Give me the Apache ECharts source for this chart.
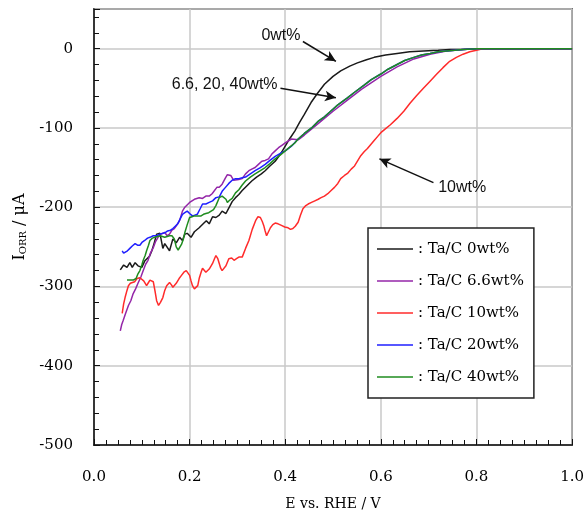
<!DOCTYPE html>
<html>
  <head>
    <meta charset="utf-8">
    <title>ORR current vs potential</title>
  </head>
  <body style="margin:0">
    <div id="main" style="width: 587px;height:520px;"></div>
  </body>
  <script type="text/javascript" src="https://cdn.jsdelivr.net/npm/echarts@6/dist/echarts.min.js"></script>
  <script type="text/javascript">
      // data: [E (V), I (uA)]
      var names = ['0wt%', '6.6wt%', '10wt%', '20wt%', '40wt%'];
      var colors = ['#1a1a1a', '#9426a8', '#ff2b2b', '#1f1fff', '#1f8c1f'];

      var common = [[0.44,-107],[0.455,-100],[0.47,-91],[0.482,-86],[0.495,-79],[0.51,-71],[0.53,-62],[0.545,-55],[0.565,-46],[0.58,-39],[0.6,-32],[0.615,-26],[0.634,-20],[0.65,-15],[0.669,-11],[0.685,-8],[0.703,-6],[0.72,-4],[0.737,-3],[0.755,-2],[0.772,-1],[0.8,0],[0.85,0],[0.9,0],[0.95,0],[1.0,0]];

      var black = [[0.055,-279],[0.062,-273],[0.069,-276],[0.075,-270],[0.08,-276],[0.086,-270],[0.092,-274],[0.1,-276],[0.106,-268],[0.11,-267],[0.116,-262],[0.121,-255],[0.126,-245],[0.131,-234],[0.138,-233],[0.144,-252],[0.148,-246],[0.152,-244],[0.158,-255],[0.165,-240],[0.172,-245],[0.179,-238],[0.185,-242],[0.19,-234],[0.195,-233],[0.203,-238],[0.21,-231],[0.214,-230],[0.22,-226],[0.224,-227],[0.23,-220],[0.235,-217],[0.241,-221],[0.248,-212],[0.255,-213],[0.262,-210],[0.268,-205],[0.276,-208],[0.283,-200],[0.289,-193],[0.296,-188],[0.303,-184],[0.31,-179],[0.32,-173],[0.33,-167],[0.34,-162],[0.35,-158],[0.358,-154],[0.368,-148],[0.379,-142],[0.39,-133],[0.4,-123],[0.41,-113],[0.42,-104],[0.43,-93],[0.44,-83],[0.454,-68],[0.468,-56],[0.482,-45],[0.5,-35],[0.516,-28],[0.535,-22],[0.551,-18],[0.57,-14],[0.586,-11],[0.61,-8],[0.634,-6],[0.66,-4],[0.689,-3],[0.72,-2],[0.744,-1],[0.77,-1],[0.8,0],[0.85,0],[0.9,0],[0.95,0],[1.0,0]];

      var purple = [[0.055,-356],[0.058,-348],[0.061,-343],[0.066,-334],[0.072,-324],[0.077,-318],[0.082,-309],[0.087,-303],[0.092,-296],[0.098,-288],[0.103,-280],[0.108,-272],[0.113,-267],[0.118,-258],[0.124,-251],[0.129,-243],[0.134,-238],[0.14,-234],[0.148,-232],[0.153,-236],[0.158,-234],[0.163,-229],[0.168,-227],[0.174,-222],[0.179,-217],[0.185,-205],[0.19,-200],[0.2,-194],[0.21,-190],[0.22,-188],[0.227,-189],[0.234,-186],[0.241,-186],[0.247,-183],[0.257,-175],[0.262,-175],[0.268,-171],[0.275,-163],[0.279,-159],[0.286,-160],[0.292,-166],[0.296,-167],[0.303,-165],[0.31,-164],[0.317,-158],[0.324,-154],[0.33,-152],[0.337,-150],[0.344,-146],[0.351,-142],[0.358,-141],[0.365,-139],[0.372,-133],[0.379,-129],[0.386,-125],[0.393,-122],[0.4,-119],[0.413,-114],[0.427,-115],[0.44,-109],[0.47,-94],[0.5,-79],[0.53,-65],[0.56,-51],[0.6,-35],[0.634,-23],[0.669,-13],[0.703,-7],[0.737,-3],[0.772,-1],[0.8,0],[0.85,0],[0.9,0],[0.95,0],[1.0,0]];

      var red = [[0.059,-334],[0.062,-322],[0.065,-314],[0.069,-305],[0.072,-299],[0.076,-296],[0.079,-296],[0.085,-294],[0.09,-290],[0.096,-289],[0.1,-290],[0.104,-293],[0.11,-299],[0.114,-295],[0.117,-292],[0.121,-290],[0.124,-294],[0.128,-307],[0.131,-318],[0.135,-324],[0.139,-320],[0.144,-314],[0.148,-305],[0.152,-299],[0.158,-295],[0.162,-298],[0.165,-301],[0.168,-299],[0.172,-296],[0.178,-290],[0.183,-286],[0.188,-282],[0.193,-280],[0.197,-282],[0.2,-286],[0.203,-293],[0.206,-299],[0.21,-303],[0.214,-305],[0.217,-299],[0.22,-290],[0.224,-282],[0.227,-277],[0.231,-279],[0.234,-282],[0.241,-278],[0.245,-274],[0.248,-271],[0.252,-265],[0.255,-261],[0.259,-265],[0.262,-271],[0.265,-277],[0.268,-280],[0.272,-278],[0.276,-274],[0.282,-265],[0.288,-264],[0.293,-267],[0.298,-265],[0.303,-263],[0.31,-263],[0.317,-252],[0.324,-242],[0.331,-228],[0.338,-217],[0.343,-212],[0.348,-213],[0.352,-218],[0.355,-223],[0.358,-230],[0.361,-236],[0.365,-231],[0.369,-226],[0.374,-222],[0.379,-220],[0.385,-221],[0.392,-223],[0.399,-225],[0.406,-226],[0.411,-228],[0.416,-227],[0.421,-224],[0.427,-219],[0.432,-210],[0.437,-202],[0.443,-198],[0.448,-196],[0.455,-194],[0.462,-192],[0.469,-190],[0.475,-188],[0.482,-186],[0.489,-183],[0.496,-179],[0.503,-175],[0.51,-170],[0.516,-164],[0.524,-160],[0.531,-157],[0.538,-152],[0.545,-148],[0.552,-141],[0.558,-135],[0.565,-130],[0.572,-126],[0.579,-121],[0.586,-116],[0.593,-111],[0.6,-106],[0.61,-101],[0.62,-96],[0.634,-88],[0.648,-79],[0.661,-69],[0.675,-59],[0.689,-50],[0.703,-41],[0.717,-32],[0.73,-24],[0.744,-16],[0.758,-11],[0.772,-7],[0.786,-4],[0.8,-2],[0.815,0],[0.85,0],[0.9,0],[0.95,0],[1.0,0]];

      var blue = [[0.059,-255],[0.062,-258],[0.065,-259],[0.07,-255],[0.075,-252],[0.08,-249],[0.086,-246],[0.091,-248],[0.096,-248],[0.101,-244],[0.106,-242],[0.112,-239],[0.117,-238],[0.124,-236],[0.131,-236],[0.138,-234],[0.144,-233],[0.149,-232],[0.154,-230],[0.16,-229],[0.165,-227],[0.17,-224],[0.175,-221],[0.18,-215],[0.185,-209],[0.19,-207],[0.195,-205],[0.2,-208],[0.206,-211],[0.211,-210],[0.216,-209],[0.222,-202],[0.227,-196],[0.234,-196],[0.241,-194],[0.248,-192],[0.255,-188],[0.262,-187],[0.268,-180],[0.275,-175],[0.282,-170],[0.289,-166],[0.296,-164],[0.303,-164],[0.31,-163],[0.317,-162],[0.327,-158],[0.337,-154],[0.348,-150],[0.358,-146],[0.368,-141],[0.379,-136],[0.39,-132],[0.4,-129],[0.413,-123],[0.427,-114]].concat(common);

      var green = [[0.069,-292],[0.075,-292],[0.082,-292],[0.088,-290],[0.092,-284],[0.096,-280],[0.1,-273],[0.103,-267],[0.107,-261],[0.11,-255],[0.114,-248],[0.117,-242],[0.122,-239],[0.127,-238],[0.133,-237],[0.138,-236],[0.143,-237],[0.148,-238],[0.153,-237],[0.158,-236],[0.163,-236],[0.168,-240],[0.172,-250],[0.176,-254],[0.179,-254],[0.183,-247],[0.187,-240],[0.19,-232],[0.195,-222],[0.2,-213],[0.205,-212],[0.21,-211],[0.217,-211],[0.224,-211],[0.229,-209],[0.234,-208],[0.24,-207],[0.244,-207],[0.25,-203],[0.255,-198],[0.262,-188],[0.268,-186],[0.272,-186],[0.276,-190],[0.279,-194],[0.284,-191],[0.289,-189],[0.296,-182],[0.303,-178],[0.31,-172],[0.317,-167],[0.327,-162],[0.337,-158],[0.348,-154],[0.358,-150],[0.368,-145],[0.379,-139],[0.39,-134],[0.4,-129],[0.41,-124],[0.42,-119],[0.427,-114]].concat(common);

      var curves = [black, purple, red, blue, green];

      // annotations (text + arrow), in data coordinates
      var annoText = ['0wt%', '6.6, 20, 40wt%', '10wt%'];
      var annoAnchor = [[0.432, 16, 'right'], [0.384, -45, 'right'], [0.72, -175, 'left']];
      var arrows = [
          [[0.437, 9], [0.506, -16]],
          [[0.39, -50], [0.506, -62]],
          [[0.71, -169], [0.597, -139]]
      ];

      var serif = 'DejaVu Serif';
      var myChart = echarts.init(document.getElementById('main'));

      var series = curves.map(function (c, i) {
          return {
              name: names[i],
              type: 'line',
              data: c,
              symbol: 'none',
              animation: false,
              lineStyle: { color: colors[i], width: 1.5 },
              itemStyle: { color: colors[i] }
          };
      });
      series[0].markLine = {
          silent: true,
          animation: false,
          symbol: ['none', 'arrow'],
          symbolSize: [8, 11],
          label: { show: false },
          lineStyle: { color: '#111', width: 1.5, type: 'solid' },
          data: arrows.map(function (a) {
              return [{ coord: a[0] }, { coord: a[1] }];
          })
      };

      myChart.setOption({
          backgroundColor: '#fff',
          grid: {
              left: 94, right: 10, top: 9, bottom: 75,
              show: true, borderColor: '#111', borderWidth: 1.5
          },
          legend: {
              orient: 'vertical',
              left: 368, top: 228,
              padding: [11, 10, 11, 9],
              icon: 'rect',
              itemWidth: 36, itemHeight: 1.5, itemGap: 12,
              backgroundColor: '#fff',
              borderColor: '#222', borderWidth: 1.5,
              data: names,
              formatter: function (n) { return ': Ta/C ' + n; },
              textStyle: { fontFamily: serif, fontSize: 15, color: '#000', lineHeight: 20 }
          },
          xAxis: {
              type: 'value',
              min: 0, max: 1, interval: 0.2,
              name: 'E vs. RHE / V',
              nameLocation: 'middle',
              nameGap: 52,
              nameTextStyle: { fontFamily: serif, fontSize: 14, color: '#000' },
              axisLine: { onZero: false, lineStyle: { color: '#111', width: 1.5 } },
              axisTick: { inside: true, length: 6, lineStyle: { color: '#111' } },
              minorTick: { show: true, splitNumber: 8, length: 5, lineStyle: { color: '#111' } },
              splitLine: { lineStyle: { color: '#c8c8c8', width: 1.5 } },
              axisLabel: {
                  margin: 25, fontFamily: serif, fontSize: 15, color: '#000',
                  formatter: function (v) { return v.toFixed(1); }
              }
          },
          yAxis: {
              type: 'value',
              min: -500, max: 50, interval: 100,
              name: '{a|I}{b|ORR}{a| / μA}',
              nameLocation: 'middle',
              nameRotate: 90,
              nameGap: 64,
              nameTextStyle: {
                  rich: {
                      a: { fontFamily: serif, fontSize: 16, color: '#000' },
                      b: { fontFamily: serif, fontSize: 10, color: '#000', padding: [8, 0, 0, 0] }
                  }
              },
              axisLine: { onZero: false, lineStyle: { color: '#111', width: 1.5 } },
              axisTick: { inside: true, length: 6, lineStyle: { color: '#111' } },
              minorTick: { show: true, splitNumber: 5, length: 5, lineStyle: { color: '#111' } },
              splitLine: { lineStyle: { color: '#c8c8c8', width: 1.5 } },
              axisLabel: {
                  margin: 21, fontFamily: serif, fontSize: 15, color: '#000',
                  formatter: function (v) { return v > 0 ? '' : String(v); }
              }
          },
          series: series
      });

      // annotation texts placed through the chart's own scale
      myChart.setOption({
          graphic: annoText.map(function (t, i) {
              var p = myChart.convertToPixel({ gridIndex: 0 }, [annoAnchor[i][0], annoAnchor[i][1]]);
              return {
                  type: 'text', x: p[0], y: p[1], silent: true,
                  style: {
                      text: t, align: annoAnchor[i][2], verticalAlign: 'middle',
                      font: '16px "Liberation Sans"', fill: '#111'
                  }
              };
          })
      });
  </script>
</html>
